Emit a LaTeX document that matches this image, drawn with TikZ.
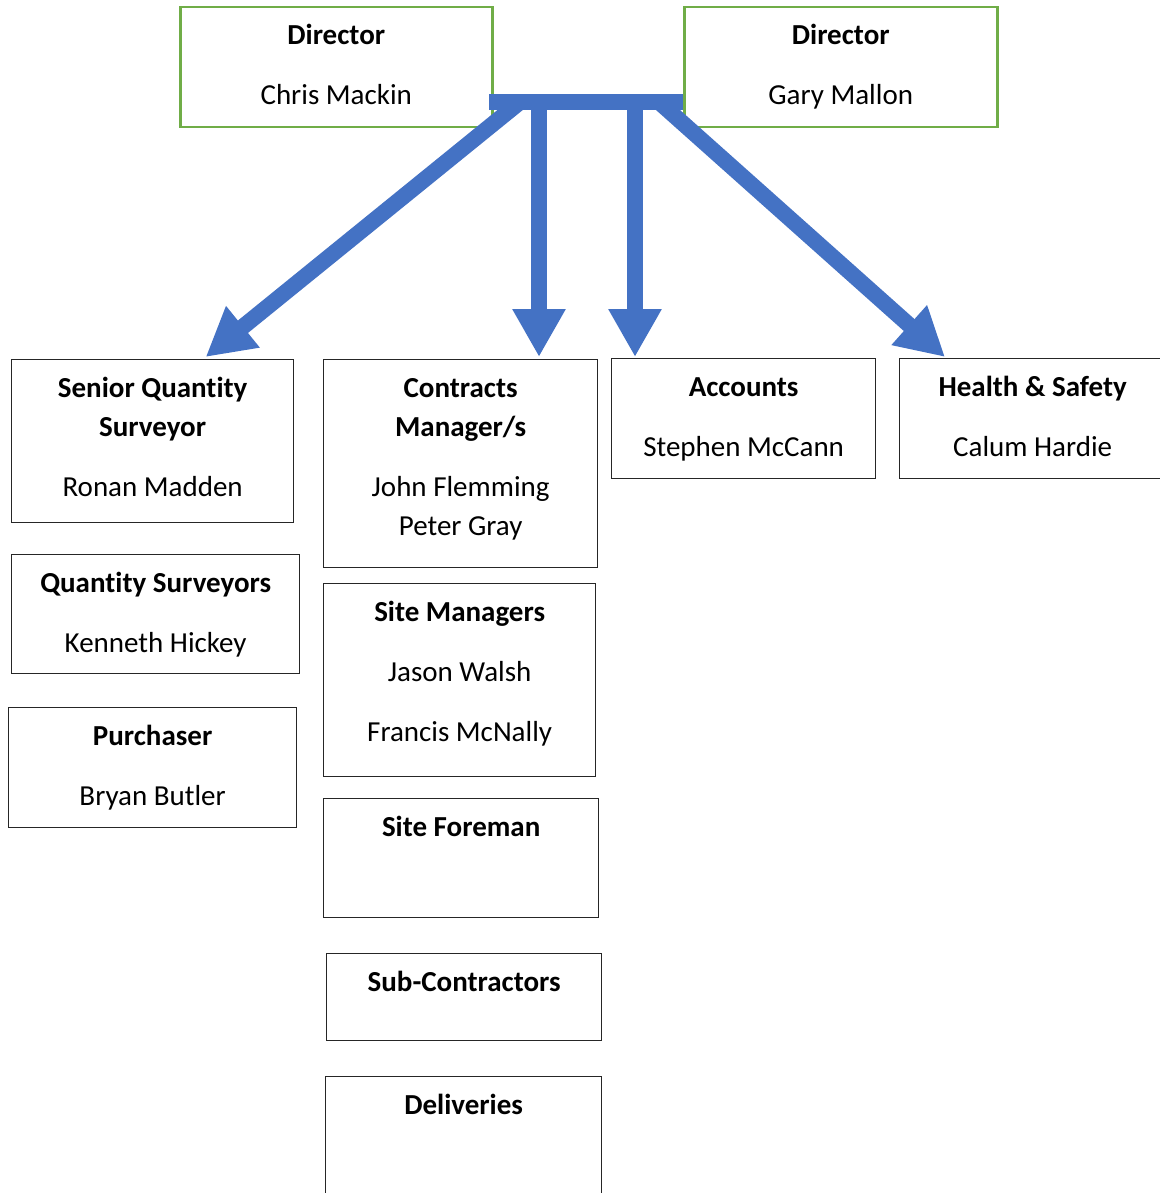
\documentclass[tikz,border=0pt]{standalone}
\usepackage{fontspec}
\setmainfont{Carlito}[Ligatures={TeX,NoCommon}]
\usepackage{xcolor}
\usepackage{tikz}
\usetikzlibrary{arrows.meta, positioning}
\definecolor{DirGreen}{RGB}{112, 173, 71}
\definecolor{FlowBlue}{RGB}{68, 114, 196}

\tikzset{
  orgbox/.style={draw=black!85, line width=1.3pt, rectangle, inner sep=0pt, anchor=north west},
  dirbox/.style={orgbox, draw=DirGreen, line width=2.5pt},
  boxtext/.style={anchor=north, align=center, inner sep=0pt, font=\fontsize{29}{39}\selectfont},
  flow/.style={draw=FlowBlue, line width=16pt, -{Triangle[length=48pt, width=50pt]}}
}

\begin{document}
\begin{tikzpicture}[x=1pt, y=-1pt]
    \useasboundingbox (0,0) rectangle (1159,1193);

    % directors
    \node[dirbox, minimum width=312pt, minimum height=120pt] (dchris) at (179,6) {};
    \node[boxtext, below=11pt of dchris.north] (dchris-t) {\strut\textbf{Director}\\[21pt]Chris Mackin};
    \node[dirbox, minimum width=313pt, minimum height=120pt] (dgary) at (683,6) {};
    \node[boxtext, below=11pt of dgary.north] (dgary-t) {\strut\textbf{Director}\\[21pt]Gary Mallon};

    % first row
    \node[orgbox, minimum width=282pt, minimum height=163pt] (sqs) at (11,359) {};
    \node[boxtext, below=11pt of sqs.north] (sqs-t) {\strut\textbf{Senior Quantity}\\\textbf{Surveyor}\\[21pt]Ronan Madden};
    \node[orgbox, minimum width=274pt, minimum height=208pt] (cm) at (323,359) {};
    \node[boxtext, below=11pt of cm.north] (cm-t) {\strut\textbf{Contracts}\\\textbf{Manager/s}\\[21pt]John Flemming\\Peter Gray};
    \node[orgbox, minimum width=264pt, minimum height=120pt] (acc) at (611,358) {};
    \node[boxtext, below=11pt of acc.north] (acc-t) {\strut\textbf{Accounts}\\[21pt]Stephen McCann};
    \node[orgbox, minimum width=266pt, minimum height=120pt] (hs) at (899,358) {};
    \node[boxtext, below=11pt of hs.north] (hs-t) {\strut\textbf{Health \& Safety}\\[21pt]Calum Hardie};

    % left column
    \node[orgbox, minimum width=288pt, minimum height=119pt] (qs) at (11,554) {};
    \node[boxtext, below=11pt of qs.north] (qs-t) {\strut\textbf{Quantity Surveyors}\\[21pt]Kenneth Hickey};
    \node[orgbox, minimum width=288pt, minimum height=120pt] (pur) at (8,707) {};
    \node[boxtext, below=11pt of pur.north] (pur-t) {\strut\textbf{Purchaser}\\[21pt]Bryan Butler};

    % site column
    \node[orgbox, minimum width=272pt, minimum height=193pt] (sm) at (323,583) {};
    \node[boxtext, below=11pt of sm.north] (sm-t) {\strut\textbf{Site Managers}\\[21pt]Jason Walsh\\[21pt]Francis McNally};
    \node[orgbox, minimum width=275pt, minimum height=119pt] (sf) at (323,798) {};
    \node[boxtext, below=11pt of sf.north] (sf-t) {\strut\textbf{Site Foreman}};
    \node[orgbox, minimum width=275pt, minimum height=87pt] (sc) at (326,953) {};
    \node[boxtext, below=11pt of sc.north] (sc-t) {\strut\textbf{Sub-Contractors}};
    \node[orgbox, minimum width=276pt, minimum height=130pt] (del) at (325,1076) {};
    \node[boxtext, below=11pt of del.north] (del-t) {\strut\textbf{Deliveries}};

    % arrows from the bar
    \coordinate (barL) at (489,102);
    \coordinate (barR) at (683,102);
    \coordinate (b1) at (520,102);
    \coordinate (b2) at (539,102);
    \coordinate (b3) at (635,102);
    \coordinate (b4) at (659,102);
    \draw[flow] (b1) -- ([xshift=53pt, yshift=2pt]sqs.north);
    \draw[flow] (b2) -- ([yshift=2pt]b2 |- cm.north);
    \draw[flow] (b3) -- ([yshift=1pt]b3 |- acc.north);
    \draw[flow] (b4) -- ([xshift=46pt, yshift=1pt]hs.north west);
    \draw[FlowBlue, line width=16pt] (barL) -- (barR);
\end{tikzpicture}
\end{document}
